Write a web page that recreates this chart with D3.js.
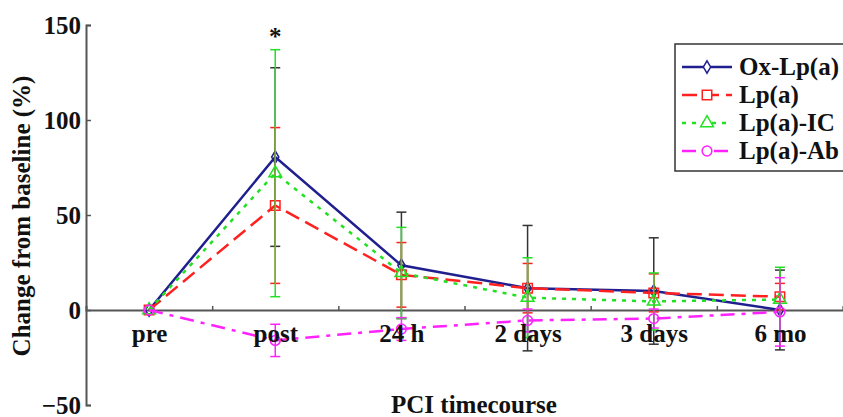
<!DOCTYPE html>
<html>
<head>
<meta charset="utf-8">
<script src="https://cdn.jsdelivr.net/npm/d3@7"></script>
<style>
  body { margin: 0; background: #fff; }
  text { font-family: 'Liberation Serif', 'Times New Roman', serif; font-weight: bold; fill: #111; }
</style>
</head>
<body>
<script>
var categories = ['pre', 'post', '24 h', '2 days', '3 days', '6 mo'];
var yTicks = [-50, 0, 50, 100, 150];

// means and error half-widths, % change from baseline
var oxMean = [0, 80.5, 23.5, 11.5, 10, 0];
var oxErr = [0, 47, 28, 33, 28, 21];
var lpaMean = [0, 55, 18.5, 11.5, 9, 7];
var lpaErr = [0, 41, 17, 13, 10, 7];
var icMean = [0, 72, 19.5, 6.5, 4.5, 5.5];
var icErr = [0, 65, 24, 21, 15, 17];
var abMean = [0, -16, -10, -5.5, -4.5, -1];
var abErr = [0, 8.5, 6, 6, 5, 18];

var seriesNames = ['Ox-Lp(a)', 'Lp(a)', 'Lp(a)-IC', 'Lp(a)-Ab'];

var series = [
    {name: seriesNames[0], mean: oxMean, err: oxErr, color: '#1f1f8f', barColor: '#333', dash: null, marker: 'diamond'},
    {name: seriesNames[1], mean: lpaMean, err: lpaErr, color: '#ff2020', barColor: '#ff2020', dash: '15,7', marker: 'square'},
    {name: seriesNames[2], mean: icMean, err: icErr, color: '#22e022', barColor: '#22e022', dash: '4,6', marker: 'triangle'},
    {name: seriesNames[3], mean: abMean, err: abErr, color: '#ff22ff', barColor: '#ff22ff', dash: '14,7,4,7', marker: 'circle'}
];

var width = 843, height = 417;

var svg = d3.select('body').append('svg')
    .attr('width', width)
    .attr('height', height);

var x = d3.scaleLinear().domain([-0.5, 5.5]).range([86, 843]);
var y = d3.scaleLinear().domain([-50, 150]).range([405, 25]);

// y axis
var yAxis = svg.append('g')
    .attr('transform', 'translate(' + x(-0.5) + ',0)')
    .call(d3.axisLeft(y).tickValues(yTicks).tickSize(-5).tickPadding(5).tickFormat(d3.format('d')));
yAxis.select('.domain').attr('stroke', '#555').attr('stroke-width', 2);
yAxis.selectAll('.tick line').attr('stroke', '#555').attr('stroke-width', 1.5);
yAxis.selectAll('text')
    .attr('font-size', 25)
    .attr('font-family', 'Liberation Serif')
    .attr('font-weight', 'bold')
    .attr('fill', '#111')
    .attr('dy', '0.33em');

// x axis along zero, minor ticks between categories
var xAxis = svg.append('g')
    .attr('transform', 'translate(0,' + y(0) + ')')
    .call(d3.axisBottom(x).tickValues(d3.range(0.5, 6, 1)).tickSize(-4).tickFormat(''));
xAxis.select('.domain').attr('stroke', '#555').attr('stroke-width', 2);
xAxis.selectAll('.tick line').attr('stroke', '#555').attr('stroke-width', 1.5);

// axis titles
svg.append('text')
    .attr('transform', 'translate(30,216) rotate(-90)')
    .attr('text-anchor', 'middle')
    .attr('font-size', 25)
    .text('Change from baseline (%)');

svg.append('text')
    .attr('x', 474)
    .attr('y', 413)
    .attr('text-anchor', 'middle')
    .attr('font-size', 25)
    .text('PCI timecourse');

// significance mark
svg.append('text')
    .attr('x', x(1))
    .attr('y', 45)
    .attr('text-anchor', 'middle')
    .attr('font-size', 25)
    .attr('fill', '#333')
    .text('*');

var symbolType = {
    diamond: d3.symbolDiamond,
    square: d3.symbolSquare,
    triangle: d3.symbolTriangle,
    circle: d3.symbolCircle
};
var symbolSize = {diamond: 45, square: 90, triangle: 70, circle: 75};

var line = d3.line()
    .x(function(d, i) { return x(i); })
    .y(function(d) { return y(d); });

series.forEach(function(s) {
    var g = svg.append('g');
    var idx = d3.range(s.mean.length).filter(function(i) { return s.err[i] > 0; });

    g.append('path')
        .attr('d', line(s.mean))
        .attr('fill', 'none')
        .attr('stroke', s.color)
        .attr('stroke-width', 2.5)
        .attr('stroke-dasharray', s.dash);

    g.selectAll('line.bar').data(idx).enter().append('line')
        .attr('class', 'bar')
        .attr('x1', function(i) { return x(i); })
        .attr('x2', function(i) { return x(i); })
        .attr('y1', function(i) { return y(s.mean[i] - s.err[i]); })
        .attr('y2', function(i) { return y(s.mean[i] + s.err[i]); })
        .attr('stroke', s.barColor)
        .attr('stroke-width', 1.5);

    [-1, 1].forEach(function(sign) {
        g.selectAll('line.cap' + sign).data(idx).enter().append('line')
            .attr('x1', function(i) { return x(i) - 5; })
            .attr('x2', function(i) { return x(i) + 5; })
            .attr('y1', function(i) { return y(s.mean[i] + sign * s.err[i]); })
            .attr('y2', function(i) { return y(s.mean[i] + sign * s.err[i]); })
            .attr('stroke', s.barColor)
            .attr('stroke-width', 1.5);
    });

    g.selectAll('path.mk').data(s.mean).enter().append('path')
        .attr('class', 'mk')
        .attr('transform', function(d, i) { return 'translate(' + x(i) + ',' + y(d) + ')'; })
        .attr('d', d3.symbol().type(symbolType[s.marker]).size(symbolSize[s.marker]))
        .attr('fill', 'none')
        .attr('stroke', s.color)
        .attr('stroke-width', 1.5);
});

// category labels on top of the lines
var xLabels = svg.append('g')
    .attr('transform', 'translate(0,' + y(0) + ')')
    .call(d3.axisBottom(x).tickValues(d3.range(categories.length)).tickSize(0).tickFormat(function(i) { return categories[i]; }));
xLabels.select('.domain').remove();
xLabels.selectAll('text')
    .attr('y', 32)
    .attr('dy', 0)
    .attr('font-size', 25)
    .attr('font-family', 'Liberation Serif')
    .attr('font-weight', 'bold')
    .attr('fill', '#111');

// legend
var legend = svg.append('g');
legend.append('rect')
    .attr('x', 675)
    .attr('y', 44)
    .attr('width', 200)
    .attr('height', 127)
    .attr('fill', '#fff')
    .attr('stroke', '#333')
    .attr('stroke-width', 1.5);

var legendY = d3.scalePoint().domain(seriesNames).range([67, 151]);

series.forEach(function(s) {
    var ly = legendY(s.name);
    legend.append('line')
        .attr('x1', 682)
        .attr('x2', 732)
        .attr('y1', ly)
        .attr('y2', ly)
        .attr('stroke', s.color)
        .attr('stroke-width', 2.5)
        .attr('stroke-dasharray', s.dash);
    legend.append('path')
        .attr('transform', 'translate(707,' + ly + ')')
        .attr('d', d3.symbol().type(symbolType[s.marker]).size(symbolSize[s.marker]))
        .attr('fill', '#fff')
        .attr('stroke', s.color)
        .attr('stroke-width', 1.5);
    legend.append('text')
        .attr('x', 739)
        .attr('y', ly + 8)
        .attr('font-size', 25)
        .text(s.name);
});
</script>
</body>
</html>
